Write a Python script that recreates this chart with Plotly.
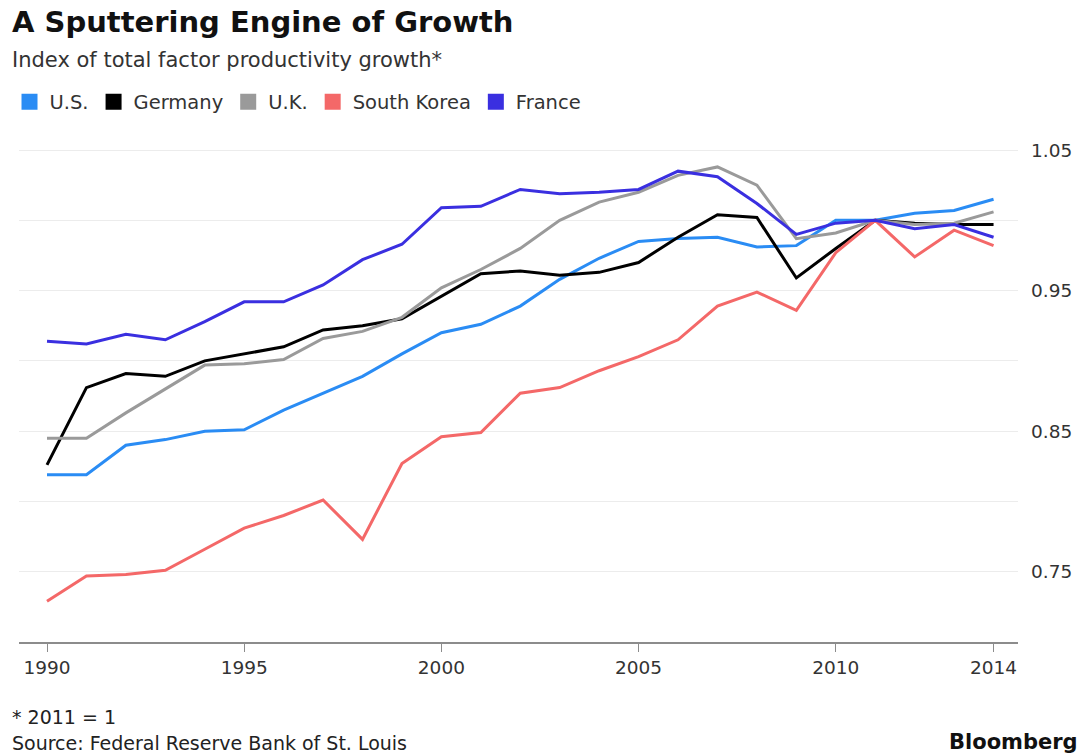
import plotly.graph_objects as go

# Total factor productivity index, 2011 = 1
years = list(range(1990, 2015))

us = [0.819, 0.819, 0.840, 0.844, 0.850, 0.851, 0.865, 0.877, 0.889, 0.905,
      0.920, 0.926, 0.939, 0.958, 0.973, 0.985, 0.987, 0.988, 0.981, 0.982,
      1.000, 1.000, 1.005, 1.007, 1.015]
germany = [0.826, 0.881, 0.891, 0.889, 0.900, 0.905, 0.910, 0.922, 0.925, 0.930,
           0.946, 0.962, 0.964, 0.961, 0.963, 0.970, 0.988, 1.004, 1.002, 0.959,
           0.980, 1.000, 0.998, 0.997, 0.997]
uk = [0.845, 0.845, 0.863, 0.880, 0.897, 0.898, 0.901, 0.916, 0.921, 0.931,
      0.952, 0.965, 0.980, 1.000, 1.013, 1.020, 1.032, 1.038, 1.025, 0.987,
      0.991, 1.000, 0.997, 0.998, 1.006]
south_korea = [0.729, 0.747, 0.748, 0.751, 0.766, 0.781, 0.790, 0.801, 0.773, 0.827,
               0.846, 0.849, 0.877, 0.881, 0.893, 0.903, 0.915, 0.939, 0.949, 0.936,
               0.977, 1.000, 0.974, 0.993, 0.982]
france = [0.914, 0.912, 0.919, 0.915, 0.928, 0.942, 0.942, 0.954, 0.972, 0.983,
          1.009, 1.010, 1.022, 1.019, 1.020, 1.022, 1.035, 1.031, 1.012, 0.990,
          0.998, 1.000, 0.994, 0.997, 0.988]

series = [
    ("U.S.", us, "#2a8cf4"),
    ("Germany", germany, "#000000"),
    ("U.K.", uk, "#9a9a9a"),
    ("South Korea", south_korea, "#f46868"),
    ("France", france, "#3a2fe0"),
]

x_ticks = [1990, 1995, 2000, 2005, 2010, 2014]
y_grid = [0.75, 0.80, 0.85, 0.90, 0.95, 1.00, 1.05]
y_labels = ["0.75", "", "0.85", "", "0.95", "", "1.05"]

FONT = "'DejaVu Sans', Verdana, sans-serif"

fig = go.Figure()

for name, vals, color in series:
    fig.add_trace(go.Scatter(
        x=years, y=vals, mode="lines", name=name,
        line=dict(color=color, width=3),
        showlegend=False, hoverinfo="x+y+name",
    ))

# square swatches for the legend row
for name, vals, color in series:
    fig.add_trace(go.Scatter(
        x=[None], y=[None], mode="markers", name=name,
        marker=dict(symbol="square", size=17, color=color),
        showlegend=True,
    ))

fig.update_layout(
    width=1090, height=756,
    margin=dict(l=10, r=72, t=136, b=114),
    paper_bgcolor="white", plot_bgcolor="white",
    font=dict(family=FONT, size=18, color="#333333"),
    legend=dict(
        orientation="h", x=-0.0095, xanchor="left", y=1.067, yanchor="middle",
        font=dict(size=19.5, color="#333333"), itemwidth=30,
        traceorder="normal", bgcolor="rgba(0,0,0,0)",
    ),
    xaxis=dict(
        range=[1989.29, 2014.62],
        tickvals=x_ticks, ticktext=[str(v) for v in x_ticks],
        showgrid=False, zeroline=False,
        showline=True, linecolor="#8c8c8c", linewidth=2,
        ticks="outside", ticklen=8, tickcolor="#8c8c8c", tickwidth=1,
        tickfont=dict(size=18.5, color="#333333"),
    ),
    yaxis=dict(
        range=[0.70, 1.06], side="right",
        tickvals=y_grid, ticktext=y_labels,
        showgrid=True, gridcolor="#ececec", gridwidth=1,
        zeroline=False, showline=False, ticks="",
        ticklabelstandoff=12,
        tickfont=dict(size=18.5, color="#333333"),
    ),
    annotations=[
        dict(text="<b>A Sputtering Engine of Growth</b>", xref="paper", yref="paper",
             x=-0.009, y=1.225, xanchor="left", yanchor="middle", showarrow=False,
             font=dict(size=29, color="#111111", family=FONT)),
        dict(text="Index of total factor productivity growth*", xref="paper", yref="paper",
             x=-0.009, y=1.150, xanchor="left", yanchor="middle", showarrow=False,
             font=dict(size=21, color="#333333", family=FONT)),
        dict(text="* 2011 = 1", xref="paper", yref="paper",
             x=-0.009, y=-0.148, xanchor="left", yanchor="middle", showarrow=False,
             font=dict(size=19, color="#222222", family=FONT)),
        dict(text="Source: Federal Reserve Bank of St. Louis", xref="paper", yref="paper",
             x=-0.009, y=-0.200, xanchor="left", yanchor="middle", showarrow=False,
             font=dict(size=19, color="#222222", family=FONT)),
        dict(text="<b>Bloomberg</b>", xref="paper", yref="paper",
             x=1.062, y=-0.197, xanchor="right", yanchor="middle", showarrow=False,
             font=dict(size=21, color="#111111", family=FONT)),
    ],
)

fig.write_html("out.html")
